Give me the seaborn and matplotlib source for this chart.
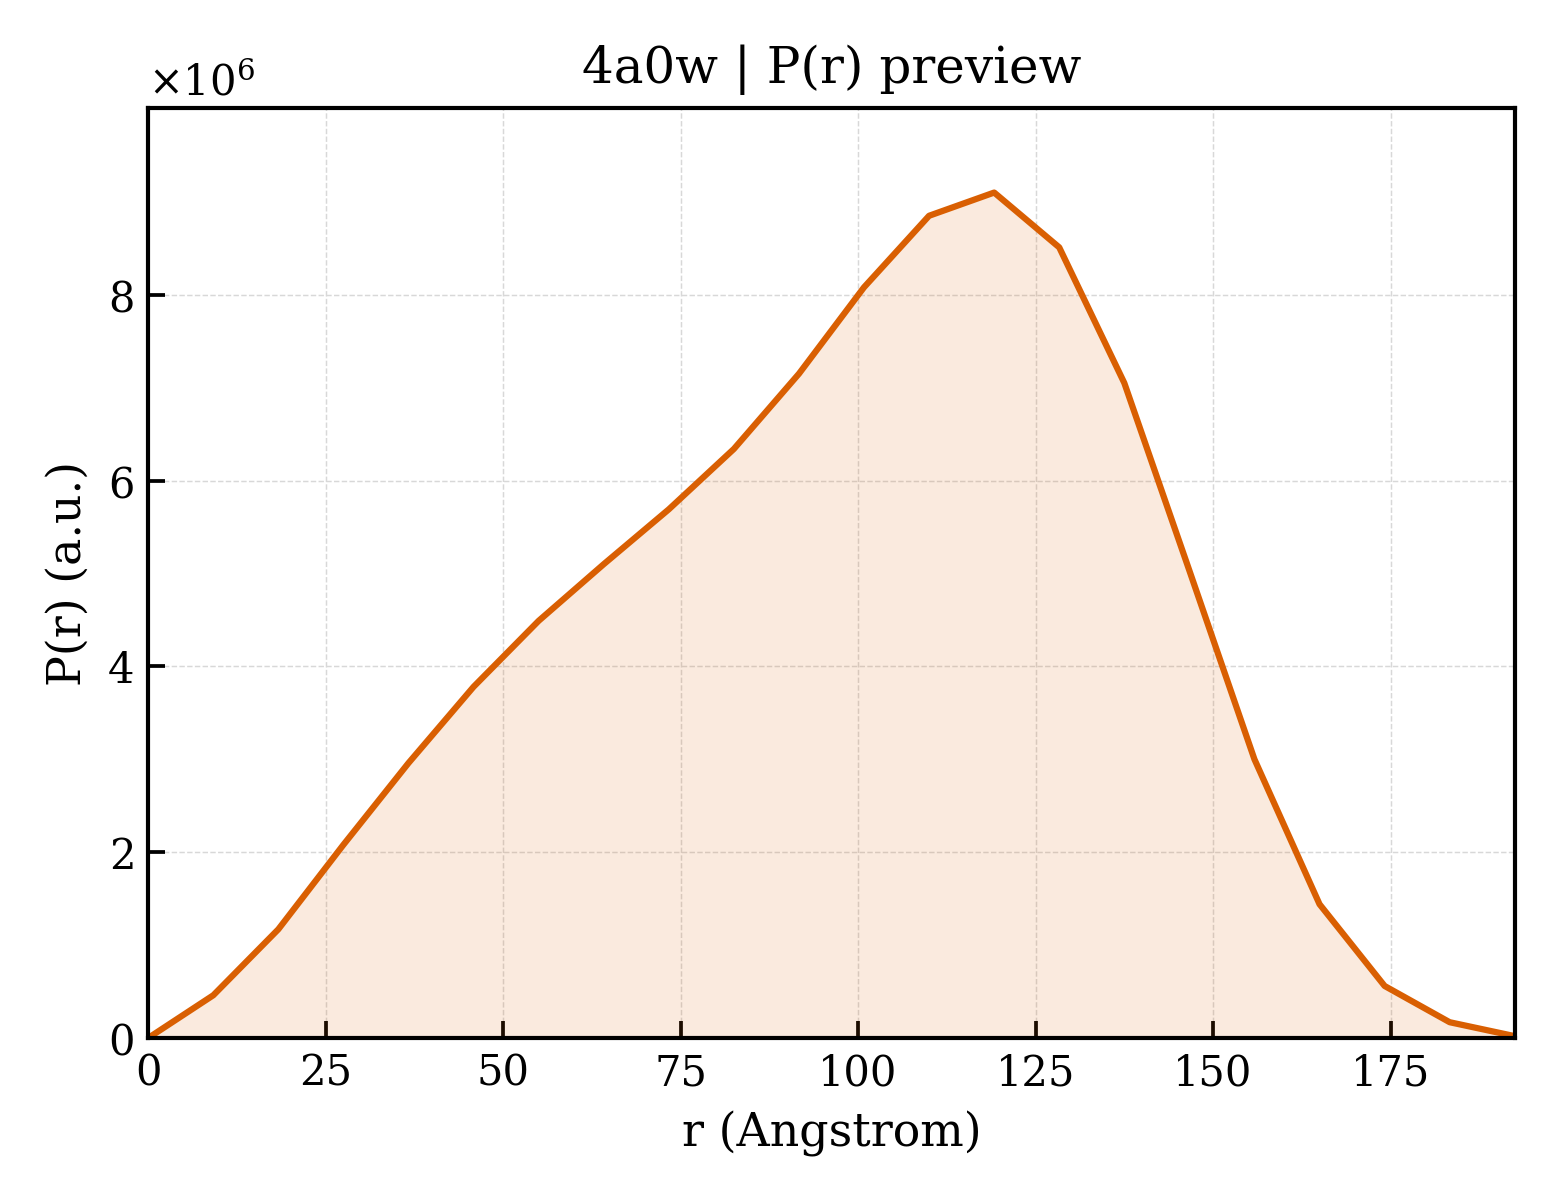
import numpy as np
import pandas as pd
import matplotlib
matplotlib.use("Agg")
import matplotlib.pyplot as plt
import matplotlib.ticker as mticker
import seaborn as sns

r_values = [0.0, 9.17, 18.33, 27.5, 36.67, 45.83, 55.0, 64.17, 73.33, 82.5, 91.67,
            100.83, 110.0, 119.17, 128.33, 137.5, 146.67, 155.83, 165.0, 174.17,
            183.33, 192.5]
pr_values = [0.0, 0.46e6, 1.17e6, 2.08e6, 2.96e6, 3.78e6, 4.49e6, 5.10e6, 5.69e6,
             6.34e6, 7.15e6, 8.08e6, 8.85e6, 9.10e6, 8.51e6, 7.05e6, 5.03e6,
             3.00e6, 1.44e6, 0.56e6, 0.17e6, 0.02e6]
y_ticks = [0, 2e6, 4e6, 6e6, 8e6]
title_text = "4a0w | P(r) preview"
x_label = "r (Angstrom)"
y_label = "P(r) (a.u.)"

df = pd.DataFrame({"r": r_values, "pr": pr_values})

sns.set_style("white")
plt.rcParams["font.family"] = ["DejaVu Serif"]
plt.rcParams["mathtext.fontset"] = "dejavuserif"
plt.rcParams["text.color"] = "black"
plt.rcParams["axes.labelcolor"] = "black"
plt.rcParams["xtick.color"] = "black"
plt.rcParams["ytick.color"] = "black"

fig, ax = plt.subplots(figsize=(5.2, 4.0), dpi=300)
color = "#d95f02"
sns.lineplot(data=df, x="r", y="pr", ax=ax, color=color, linewidth=1.5)
ax.fill_between(df["r"], df["pr"], color=color, alpha=0.13, linewidth=0)

ax.set_xlim(0, max(r_values))
ax.set_ylim(0, max(pr_values) * 1.1)
ax.set_yticks(y_ticks)
ax.set_title(title_text, fontsize=12, color="black")
ax.set_xlabel(x_label, fontsize=11)
ax.set_ylabel(y_label, fontsize=11)
ax.grid(True, linestyle="--", linewidth=0.35, color="#d8d8d8")
ax.tick_params(direction="in", labelsize=10, length=4, width=0.9, bottom=True, left=True)
fmt = mticker.ScalarFormatter(useMathText=True)
fmt.set_powerlimits((6, 6))
ax.yaxis.set_major_formatter(fmt)
ax.yaxis.get_offset_text().set_fontsize(10)
for s in ax.spines.values():
    s.set_linewidth(1.0)
    s.set_color("black")

fig.subplots_adjust(left=0.095, right=0.971, top=0.91, bottom=0.135)
fig.savefig("out.png", dpi=300)
